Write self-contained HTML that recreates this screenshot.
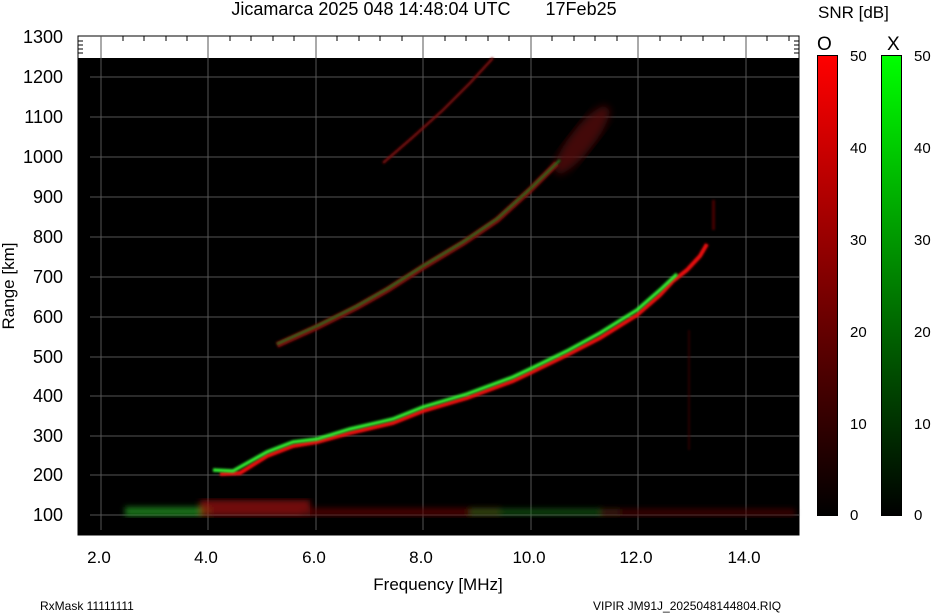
<!DOCTYPE html>
<html><head><style>
body{margin:0;background:#fff;width:932px;height:614px;overflow:hidden}
svg{display:block}
text{font-family:"Liberation Sans",sans-serif;fill:#000}
</style></head><body>
<svg width="932" height="614" viewBox="0 0 932 614">
<defs>
<linearGradient id="gr" x1="0" y1="1" x2="0" y2="0"><stop offset="0" stop-color="#000"/><stop offset="0.3" stop-color="#4a0000"/><stop offset="1" stop-color="#ff0000"/></linearGradient>
<linearGradient id="gg" x1="0" y1="1" x2="0" y2="0"><stop offset="0" stop-color="#000"/><stop offset="0.3" stop-color="#004a00"/><stop offset="1" stop-color="#00ff00"/></linearGradient>
<filter id="bl"><feGaussianBlur stdDeviation="1"/></filter>
<filter id="bl2"><feGaussianBlur stdDeviation="3"/></filter>
<filter id="bl3"><feGaussianBlur stdDeviation="4"/></filter>
</defs>
<text x="424" y="15" font-size="18" text-anchor="middle" xml:space="preserve">Jicamarca 2025 048 14:48:04 UTC       17Feb25</text>
<rect x="78" y="36" width="721" height="499" fill="#fff" stroke="#000"/>
<rect x="78" y="58" width="721" height="477" fill="#000"/>
<g stroke="#555" stroke-width="1">
<line x1="101" y1="36" x2="101" y2="530"/><line x1="208" y1="36" x2="208" y2="530"/><line x1="316" y1="36" x2="316" y2="530"/><line x1="423" y1="36" x2="423" y2="530"/><line x1="531" y1="36" x2="531" y2="530"/><line x1="638" y1="36" x2="638" y2="530"/><line x1="746" y1="36" x2="746" y2="530"/>
<line x1="90" y1="77" x2="799" y2="77"/><line x1="90" y1="117" x2="799" y2="117"/><line x1="90" y1="157" x2="799" y2="157"/><line x1="90" y1="197" x2="799" y2="197"/><line x1="90" y1="237" x2="799" y2="237"/><line x1="90" y1="277" x2="799" y2="277"/><line x1="90" y1="317" x2="799" y2="317"/><line x1="90" y1="357" x2="799" y2="357"/><line x1="90" y1="396" x2="799" y2="396"/><line x1="90" y1="436" x2="799" y2="436"/><line x1="90" y1="475" x2="799" y2="475"/><line x1="90" y1="515" x2="799" y2="515"/>
</g>
<g stroke="#000"><path d="M123 36v5M144 36v5M166 36v5M187 36v5M230 36v5M251 36v5M273 36v5M294 36v5M337 36v5M359 36v5M380 36v5M402 36v5M445 36v5M466 36v5M488 36v5M509 36v5M552 36v5M574 36v5M595 36v5M617 36v5M660 36v5M681 36v5M703 36v5M724 36v5M767 36v5M789 36v5M78 41h5M78 45h5M78 49h5M78 53h5M794 41h5M794 45h5M794 49h5M794 53h5"/></g>
<!-- bottom band -->
<g filter="url(#bl2)">
<rect x="125" y="507" width="85" height="9" fill="#1f9a1f" opacity="0.75"/>
<rect x="200" y="500" width="110" height="16" fill="#a01010" opacity="0.7"/>
<rect x="300" y="508" width="200" height="8" fill="#600808" opacity="0.7"/>
<rect x="470" y="509" width="150" height="6" fill="#1a7a1a" opacity="0.6"/>
<rect x="600" y="509" width="195" height="7" fill="#500606" opacity="0.7"/>
</g>
<!-- streaks near 13 MHz -->
<g filter="url(#bl)" opacity="0.6"><rect x="688" y="330" width="2" height="120" fill="#400"/><rect x="712" y="200" width="3" height="30" fill="#700"/></g>
<!-- scatter extension of second trace -->
<ellipse cx="0" cy="0" rx="42" ry="12" fill="#5a0808" opacity="0.75" filter="url(#bl3)" transform="translate(582,140) rotate(-52)"/>
<!-- faint top trace -->
<polyline points="383,163 413,137 443,110 470,83 493,58" fill="none" stroke="#7a1010" stroke-width="2.5" filter="url(#bl)"/>
<!-- second trace -->
<polyline points="277,345 317,327 357,307 387,290 423,267 463,243 497,220 530,190 557,163" fill="none" stroke="#800a0a" stroke-width="6" filter="url(#bl)"/>
<polyline points="277,344 317,326 357,306 387,289 423,266 463,242 497,219 530,189 560,160" fill="none" stroke="#1e7a1e" stroke-width="2" filter="url(#bl)"/>
<!-- main trace -->
<polyline points="220,474 240,473 267,456 293,446 317,442 350,433 393,423 423,411 467,398 513,381 530,373 567,355 600,338 637,315 660,295 673,281 687,270 700,256 707,244" fill="none" stroke="#ee1010" stroke-width="4" filter="url(#bl)"/>
<polyline points="213,470 233,471 267,452 293,442 317,439 350,429 393,419 423,407 467,394 513,377 530,369 567,351 600,333 637,310 660,290 677,274" fill="none" stroke="#30f030" stroke-width="3.5" filter="url(#bl)"/>
<g font-size="18" text-anchor="end">
<text x="63" y="43">1300</text><text x="63" y="83">1200</text><text x="63" y="123">1100</text><text x="63" y="163">1000</text><text x="63" y="203">900</text><text x="63" y="243">800</text><text x="63" y="283">700</text><text x="63" y="323">600</text><text x="63" y="363">500</text><text x="63" y="402">400</text><text x="63" y="442">300</text><text x="63" y="481">200</text><text x="63" y="521">100</text>
</g>
<g font-size="17" text-anchor="middle">
<text x="99" y="563">2.0</text><text x="206" y="563">4.0</text><text x="314" y="563">6.0</text><text x="421" y="563">8.0</text><text x="529" y="563">10.0</text><text x="636" y="563">12.0</text><text x="744" y="563">14.0</text>
<text x="438" y="590">Frequency [MHz]</text>
</g>
<text transform="translate(14,286) rotate(-90)" font-size="17" text-anchor="middle">Range [km]</text>
<text x="40" y="610" font-size="12">RxMask 11111111</text>
<text x="593" y="610" font-size="12">VIPIR  JM91J_2025048144804.RIQ</text>
<text x="818" y="18" font-size="17">SNR [dB]</text>
<text x="817" y="50" font-size="19">O</text><text x="887" y="50" font-size="19">X</text>
<rect x="817.5" y="55.5" width="20" height="460" fill="url(#gr)" stroke="#000"/>
<rect x="881.5" y="55.5" width="20" height="460" fill="url(#gg)" stroke="#000"/>
<g font-size="15">
<text x="850" y="61">50</text><text x="850" y="153">40</text><text x="850" y="245">30</text><text x="850" y="337">20</text><text x="850" y="429">10</text><text x="850" y="520">0</text>
<text x="914" y="61">50</text><text x="914" y="153">40</text><text x="914" y="245">30</text><text x="914" y="337">20</text><text x="914" y="429">10</text><text x="914" y="520">0</text>
</g>
</svg>
</body></html>
